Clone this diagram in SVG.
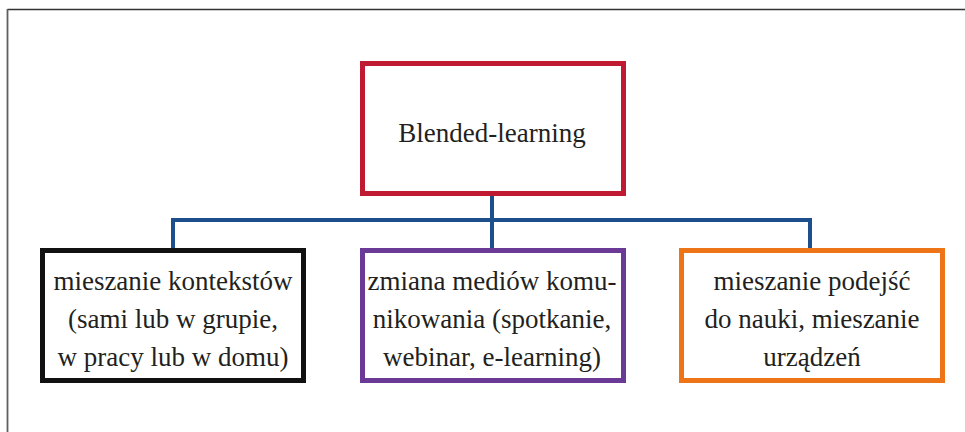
<svg xmlns="http://www.w3.org/2000/svg" width="965" height="432" viewBox="0 0 965 432">
<style>
.box{fill:#ffffff;stroke-width:5}
.t{font-family:"Liberation Serif","DejaVu Serif",serif;font-size:27px;fill:#231f20;text-anchor:middle}
.conn{fill:none;stroke:#1d4f8c;stroke-width:4;stroke-linecap:butt}
</style>
<rect width="965" height="432" fill="#ffffff"/>
<g id="frame">
<line x1="7.5" y1="9.5" x2="965" y2="9.5" stroke="#333333" stroke-width="1.6"/>
<line x1="7.5" y1="9" x2="7.5" y2="432" stroke="#5f5f5f" stroke-width="1.8"/>
</g>
<g id="connectors">
<line class="conn" x1="492" y1="195" x2="492" y2="250"/>
<polyline class="conn" points="173,250 173,220 810,220 810,250"/>
</g>
<g id="root">
<rect class="box" x="362.5" y="63.5" width="261" height="130" stroke="#c01a32"/>
<text class="t" x="492" y="142">Blended-learning</text>
</g>
<g id="node-konteksty">
<rect class="box" x="42.5" y="250.5" width="261" height="130" stroke="#111111"/>
<text class="t" x="173" y="290">mieszanie kontekstów</text>
<text class="t" x="173" y="328">(sami lub w grupie,</text>
<text class="t" x="173" y="366">w pracy lub w domu)</text>
</g>
<g id="node-media">
<rect class="box" x="362.5" y="250.5" width="261" height="130" stroke="#6a3a96"/>
<text class="t" x="492" y="290">zmiana mediów komu-</text>
<text class="t" x="492" y="328">nikowania (spotkanie,</text>
<text class="t" x="492" y="366">webinar, e-learning)</text>
</g>
<g id="node-podejscia">
<rect class="box" x="681.5" y="250.5" width="261" height="130" stroke="#ee7418"/>
<text class="t" x="812" y="290">mieszanie podejść</text>
<text class="t" x="812" y="328">do nauki, mieszanie</text>
<text class="t" x="812" y="366">urządzeń</text>
</g>
</svg>
